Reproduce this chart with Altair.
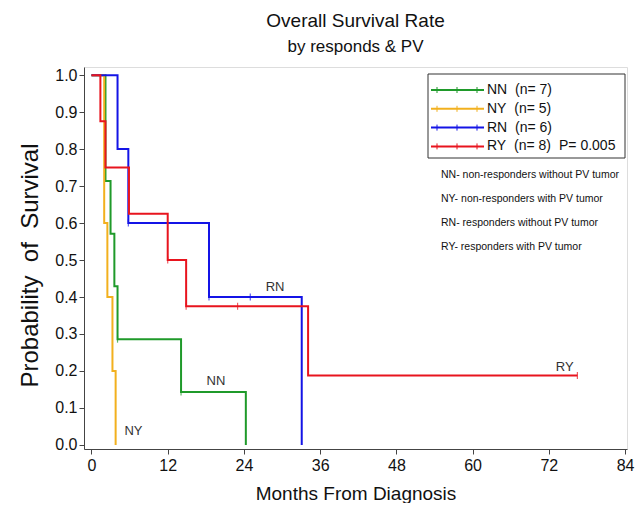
import altair as alt
import pandas as pd

# ---- data ----
groups = ["NN", "NY", "RN", "RY"]
group_n = [7, 5, 6, 8]
colors = ["#1f9a2a", "#f2b01e", "#1414e6", "#e8141e"]

nn_time = [0, 2.2, 3.0, 3.6, 4.1, 14.1, 24.3]
nn_surv = [1.0, 0.714, 0.571, 0.429, 0.286, 0.143, 0.0]
ny_time = [0, 2.0, 2.5, 3.3, 3.8]
ny_surv = [1.0, 0.6, 0.4, 0.2, 0.0]
rn_time = [0, 4.1, 5.8, 18.5, 33.1]
rn_surv = [1.0, 0.8, 0.6, 0.4, 0.0]
ry_time = [0, 1.4, 2.2, 5.9, 12.0, 14.9, 34.1, 76.5]
ry_surv = [1.0, 0.875, 0.75, 0.625, 0.5, 0.375, 0.1875, 0.1875]

cens_group = ["RN", "RN", "RN", "RY", "RY", "RY", "RY", "NN", "NN"]
cens_time = [5.8, 18.5, 25.0, 12.0, 14.9, 23.0, 76.5, 4.1, 14.1]
cens_surv = [0.6, 0.4, 0.4, 0.5, 0.375, 0.375, 0.1875, 0.286, 0.143]

p_value = "P= 0.005"
notes = ["NN- non-responders without PV tumor",
         "NY- non-responders with PV tumor",
         "RN- responders without PV tumor",
         "RY- responders with PV tumor"]
x_ticks = [0, 12, 24, 36, 48, 60, 72, 84]
y_ticks = [0.0, 0.1, 0.2, 0.3, 0.4, 0.5, 0.6, 0.7, 0.8, 0.9, 1.0]
curve_labels = {"RN": (28.9, 0.427), "NN": (19.6, 0.173), "NY": (6.6, 0.038), "RY": (74.5, 0.21)}

FONT = "Liberation Sans"
NB = "\u00a0"

rows = []
for g, t, s in [("NN", nn_time, nn_surv), ("NY", ny_time, ny_surv),
                ("RN", rn_time, rn_surv), ("RY", ry_time, ry_surv)]:
    for i, (ti, si) in enumerate(zip(t, s)):
        rows.append({"group": g, "time": ti, "surv": si, "idx": i})
df = pd.DataFrame(rows)
cens_df = pd.DataFrame({"group": cens_group, "time": cens_time, "surv": cens_surv})

color_scale = alt.Scale(domain=groups, range=colors)
xs = alt.Scale(domain=[-1.18, 84.31], nice=False, zero=False)
ys = alt.Scale(domain=[-0.011, 1.022], nice=False, zero=False)

x_axis = alt.Axis(values=x_ticks, title="Months From Diagnosis", grid=False,
                  labelFontSize=16, titleFontSize=19, titleFontWeight="normal",
                  labelFont=FONT, titleFont=FONT, tickSize=5, labelPadding=3,
                  titlePadding=11, domainColor="#444", tickColor="#444",
                  labelColor="#111", titleColor="#111", labelFlush=False,
                  labelOverlap=False)
y_axis = alt.Axis(values=y_ticks, format=".1f",
                  title=f"Probability{NB*2}of{NB*2}Survival", grid=False,
                  labelFontSize=16, titleFontSize=24, titleFontWeight="normal",
                  labelFont=FONT, titleFont=FONT, tickSize=5, labelPadding=2,
                  titlePadding=12, titleY=198, domainColor="#444", tickColor="#444",
                  labelColor="#111", titleColor="#111", labelOverlap=False,
                  labelFlush=False)

lines = alt.Chart(df).mark_line(interpolate="step-after", strokeWidth=2).encode(
    x=alt.X("time:Q", scale=xs, axis=x_axis),
    y=alt.Y("surv:Q", scale=ys, axis=y_axis),
    color=alt.Color("group:N", scale=color_scale, legend=None),
    detail="group:N",
    order="idx:Q",
)

cens = alt.Chart(cens_df).mark_tick(orient="vertical", size=7, thickness=1.2).encode(
    x=alt.X("time:Q", scale=xs, axis=x_axis),
    y=alt.Y("surv:Q", scale=ys, axis=y_axis),
    color=alt.Color("group:N", scale=color_scale, legend=None),
)

label_layers = []
for lab, (tx, sy) in curve_labels.items():
    label_layers.append(
        alt.Chart(pd.DataFrame({"t": [lab]})).mark_text(
            font=FONT, fontSize=13, color="#333", align="center", baseline="middle"
        ).encode(x=alt.datum(tx, scale=xs, axis=x_axis), y=alt.datum(sy, scale=ys, axis=y_axis), text="t:N")
    )

# legend box and notes (manual, pixel-placed)
one = pd.DataFrame({"a": [0]})
box = alt.Chart(one).mark_rect(fill="white", stroke="#333", strokeWidth=1).encode(
    x=alt.value(344), x2=alt.value(541), y=alt.value(7), y2=alt.value(91))

leg_layers = []
for r, (g, n, c) in enumerate(zip(groups, group_n, colors)):
    py = 23 + r * 18.8
    leg_layers.append(alt.Chart(one).mark_rule(strokeWidth=2, color=c).encode(
        x=alt.value(347), x2=alt.value(400), y=alt.value(py)))
    for px in (353, 373, 393):
        leg_layers.append(alt.Chart(one).mark_rule(strokeWidth=1, color=c).encode(
            x=alt.value(px), y=alt.value(py - 3), y2=alt.value(py + 3)))
    leg_layers.append(alt.Chart(one).mark_text(
        font=FONT, fontSize=14, align="left", baseline="middle", color="#111").encode(
        x=alt.value(403), y=alt.value(py), text=alt.value(f"{g}{NB}{NB}(n={NB}{n})")))
leg_layers.append(alt.Chart(one).mark_text(
    font=FONT, fontSize=14, align="left", baseline="middle", color="#111").encode(
    x=alt.value(475), y=alt.value(23 + 3 * 18.8), text=alt.value(p_value)))

note_layers = []
for r, note in enumerate(notes):
    note_layers.append(alt.Chart(one).mark_text(
        font=FONT, fontSize=10.5, align="left", baseline="middle", color="#111").encode(
        x=alt.value(357), y=alt.value(108 + r * 24), text=alt.value(note)))

chart = alt.layer(lines, cens, *label_layers, box, *leg_layers, *note_layers).properties(
    width=543, height=382,
    autosize=alt.AutoSizeParams(type="none"),
    padding={"left": 76, "top": 59, "right": 9, "bottom": 54},
    title=alt.TitleParams(text="Overall Survival Rate", subtitle="by responds & PV",
                          font=FONT, subtitleFont=FONT, fontSize=19, subtitleFontSize=17,
                          fontWeight="normal", color="#111", subtitleColor="#111",
                          anchor="middle", offset=12, subtitlePadding=8),
).configure_view(stroke="#444", strokeWidth=1.2).configure(background="white")

chart.save("out.html", embed_options={"renderer": "svg", "actions": False})
